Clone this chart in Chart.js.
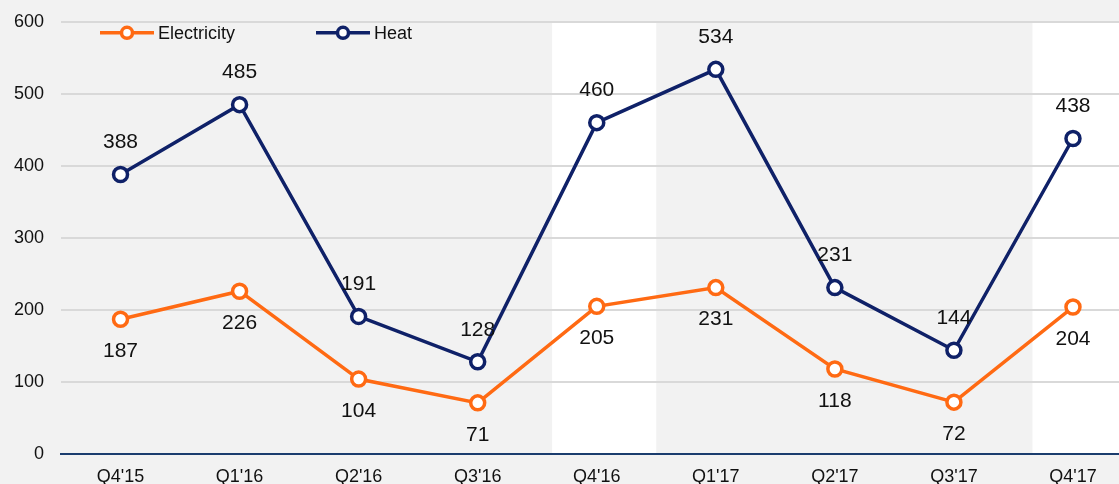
<!DOCTYPE html>
<html>
<head>
<meta charset="utf-8">
<script src="https://cdn.jsdelivr.net/npm/chart.js@4.4.1/dist/chart.umd.min.js"></script>
<style>
    html, body { margin: 0; padding: 0; background: #f2f2f2; overflow: hidden; }
    #wrap { width: 1119px; height: 484px; overflow: hidden; position: relative; }
    canvas { display: block; margin-top: -6px; }
</style>
</head>
<body>
<div id="wrap"><canvas id="lineChart" width="1143" height="506"></canvas></div>
<script>
const quarters = ["Q4'15", "Q1'16", "Q2'16", "Q3'16", "Q4'16", "Q1'17", "Q2'17", "Q3'17", "Q4'17"];
const electricity = [187, 226, 104, 71, 205, 231, 118, 72, 204];
const heat = [388, 485, 191, 128, 460, 534, 231, 144, 438];
const yTicks = [0, 100, 200, 300, 400, 500, 600];

const ORANGE = '#ff6a13';
const NAVY = '#0f2168';
const FONT = '"Liberation Sans", Arial, sans-serif';

// white highlight bands (in category index units)
const bands = [[3.625, 4.5], [7.66, 9]];

const backgroundPlugin = {
    id: 'bg',
    beforeDraw(chart) {
        const { ctx, chartArea, scales } = chart;
        ctx.save();
        ctx.fillStyle = '#f2f2f2';
        ctx.fillRect(0, 0, chart.width, chart.height);
        const step = scales.x.getPixelForValue(1) - scales.x.getPixelForValue(0);
        const x0 = scales.x.getPixelForValue(0);
        ctx.fillStyle = '#ffffff';
        bands.forEach(([a, b]) => {
            const left = x0 + step * a;
            const right = Math.min(x0 + step * b, chartArea.right);
            ctx.fillRect(left, chartArea.top, right - left, chartArea.bottom - chartArea.top);
        });
        ctx.restore();
    }
};

const labelPlugin = {
    id: 'valueLabels',
    afterDatasetsDraw(chart) {
        const { ctx, chartArea } = chart;
        ctx.save();
        ctx.font = '21px ' + FONT;
        ctx.fillStyle = '#111111';
        ctx.textAlign = 'center';
        ctx.textBaseline = 'middle';
        chart.data.datasets.forEach((ds, i) => {
            const meta = chart.getDatasetMeta(i);
            const dy = ds.label === 'Heat' ? -32 : 32;
            meta.data.forEach((pt, j) => {
                ctx.fillText(ds.data[j], pt.x, pt.y + dy);
            });
        });

        // legend
        ctx.font = '18px ' + FONT;
        ctx.textAlign = 'left';
        const items = [
            { label: 'Electricity', color: ORANGE, x: 100 },
            { label: 'Heat', color: NAVY, x: 316 }
        ];
        const y = chartArea.top + 11;
        items.forEach(it => {
            ctx.strokeStyle = it.color;
            ctx.lineWidth = 3.5;
            ctx.beginPath();
            ctx.moveTo(it.x, y);
            ctx.lineTo(it.x + 54, y);
            ctx.stroke();
            ctx.beginPath();
            ctx.arc(it.x + 27, y, 5.5, 0, Math.PI * 2);
            ctx.fillStyle = '#ffffff';
            ctx.fill();
            ctx.stroke();
            ctx.fillStyle = '#111111';
            ctx.fillText(it.label, it.x + 58, y + 1);
        });
        ctx.restore();
    }
};

const ctx = document.getElementById('lineChart').getContext('2d');
new Chart(ctx, {
    type: 'line',
    data: {
        labels: quarters,
        datasets: [{
            label: 'Electricity',
            data: electricity,
            borderColor: ORANGE,
            borderWidth: 3.5,
            pointRadius: 7,
            pointBorderWidth: 3.5,
            pointBackgroundColor: '#ffffff',
            pointBorderColor: ORANGE,
            tension: 0
        }, {
            label: 'Heat',
            data: heat,
            borderColor: NAVY,
            borderWidth: 3.5,
            pointRadius: 7,
            pointBorderWidth: 3.5,
            pointBackgroundColor: '#ffffff',
            pointBorderColor: NAVY,
            tension: 0
        }]
    },
    options: {
        responsive: false,
        animation: false,
        layout: { padding: { top: 15, right: 0, left: 0, bottom: 0 } },
        plugins: {
            legend: { display: false },
            tooltip: { enabled: false }
        },
        scales: {
            x: {
                offset: true,
                grid: { display: false, drawTicks: false },
                border: { display: true, color: '#1b3d6e', width: 2 },
                ticks: { color: '#111111', font: { family: FONT, size: 18 }, padding: 12, maxRotation: 0 },
                afterFit(scale) { scale.height = 46; }
            },
            y: {
                min: 0,
                max: 600,
                afterBuildTicks(scale) { scale.ticks = yTicks.map(v => ({ value: v })); },
                grid: { color: '#d9d9d9', lineWidth: 2, drawTicks: false },
                border: { display: false },
                ticks: { color: '#111111', font: { family: FONT, size: 18 }, padding: 17 },
                afterFit(scale) { scale.width = 61; }
            }
        }
    },
    plugins: [backgroundPlugin, labelPlugin]
});
</script>
</body>
</html>
